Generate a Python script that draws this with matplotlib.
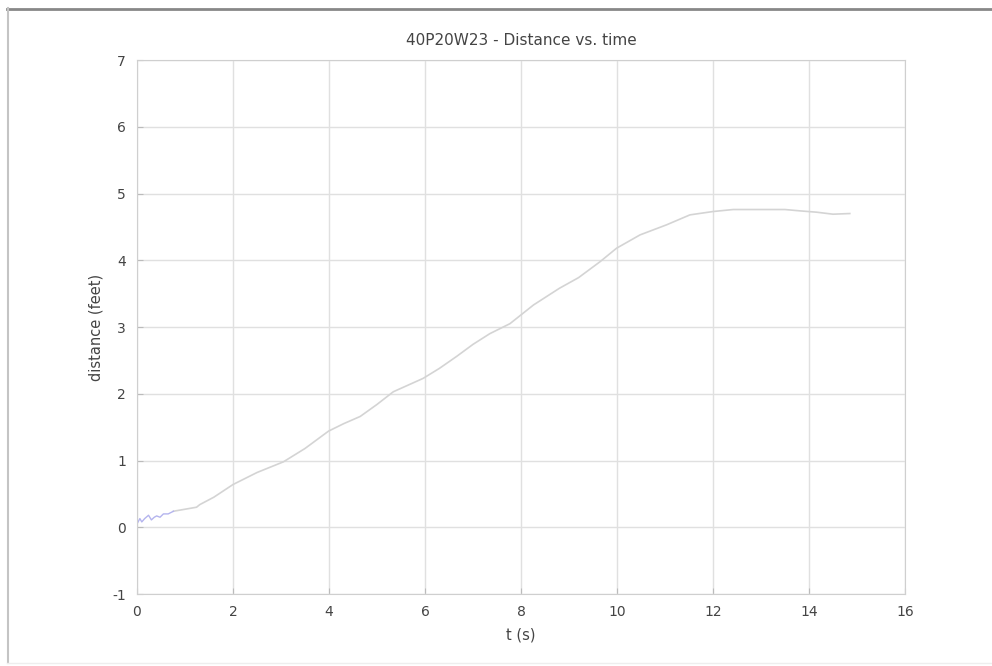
import numpy as np
import matplotlib
matplotlib.use('Agg')
import matplotlib.pyplot as plt
from matplotlib.lines import Line2D

# noisy start of the track (blue segment)
t_start = [0.0, 0.06, 0.1, 0.16, 0.24, 0.3, 0.36, 0.41, 0.48, 0.55, 0.65, 0.76]
d_start = [0.05, 0.13, 0.08, 0.13, 0.18, 0.11, 0.15, 0.17, 0.15, 0.2, 0.2, 0.24]

# main track (gray)
t_main = [0.76, 1.0, 1.24, 1.31, 1.6, 2.0, 2.5, 3.05, 3.5, 3.99, 4.3, 4.65,
          5.0, 5.34, 5.65, 5.96, 6.3, 6.66, 7.0, 7.35, 7.77, 8.26, 8.8,
          9.2, 9.65, 9.99, 10.48, 11.03, 11.52, 12.0, 12.42, 13.1, 13.5,
          13.81, 14.16, 14.5, 14.85]
d_main = [0.24, 0.27, 0.30, 0.34, 0.45, 0.64, 0.82, 0.98, 1.18, 1.44, 1.55, 1.66,
          1.84, 2.03, 2.13, 2.23, 2.38, 2.56, 2.74, 2.90, 3.05, 3.33, 3.58,
          3.74, 3.98, 4.18, 4.38, 4.53, 4.68, 4.73, 4.76, 4.76, 4.76,
          4.74, 4.72, 4.69, 4.70]

plt.rcParams['font.family'] = ['DejaVu Sans']
plt.rcParams['axes.unicode_minus'] = False

fig = plt.figure(figsize=(9.92, 6.66), dpi=100)
ax = fig.add_axes([0.1381, 0.1081, 0.7742, 0.8018])

ax.plot(t_main, d_main, color='#d4d4d4', linewidth=1.2)
ax.plot(t_start, d_start, color='#b4b4ee', linewidth=1.0)

ax.set_xlim(0, 16)
ax.set_ylim(-1, 7)
ax.set_xticks(range(0, 17, 2))
ax.set_yticks(range(-1, 8))
ax.grid(True, color='#e0e0e0', linewidth=1.0)
ax.set_axisbelow(True)
for s in ax.spines.values():
    s.set_color('#cfcfcf')
ax.tick_params(direction='in', length=4, color='#bbbbbb', labelsize=10,
               labelcolor='#444444', pad=8)

ax.set_title('40P20W23 - Distance vs. time', fontsize=11, color='#444444', pad=11)
ax.set_xlabel('t (s)', fontsize=10.5, color='#444444', labelpad=6)
ax.set_ylabel('distance (feet)', fontsize=10.5, color='#444444', labelpad=6)

# outer frame of the original screenshot
fig.add_artist(Line2D([7/992, 1], [1 - 8.5/666, 1 - 8.5/666], color='#888888', linewidth=2))
fig.add_artist(Line2D([7.5/992, 7.5/992], [1 - 8/666, 1 - 663/666], color='#c4c4c4', linewidth=1.5))
fig.add_artist(Line2D([7/992, 1], [1 - 663/666, 1 - 663/666], color='#eeeeee', linewidth=1))

fig.savefig('out.png', dpi=100)
